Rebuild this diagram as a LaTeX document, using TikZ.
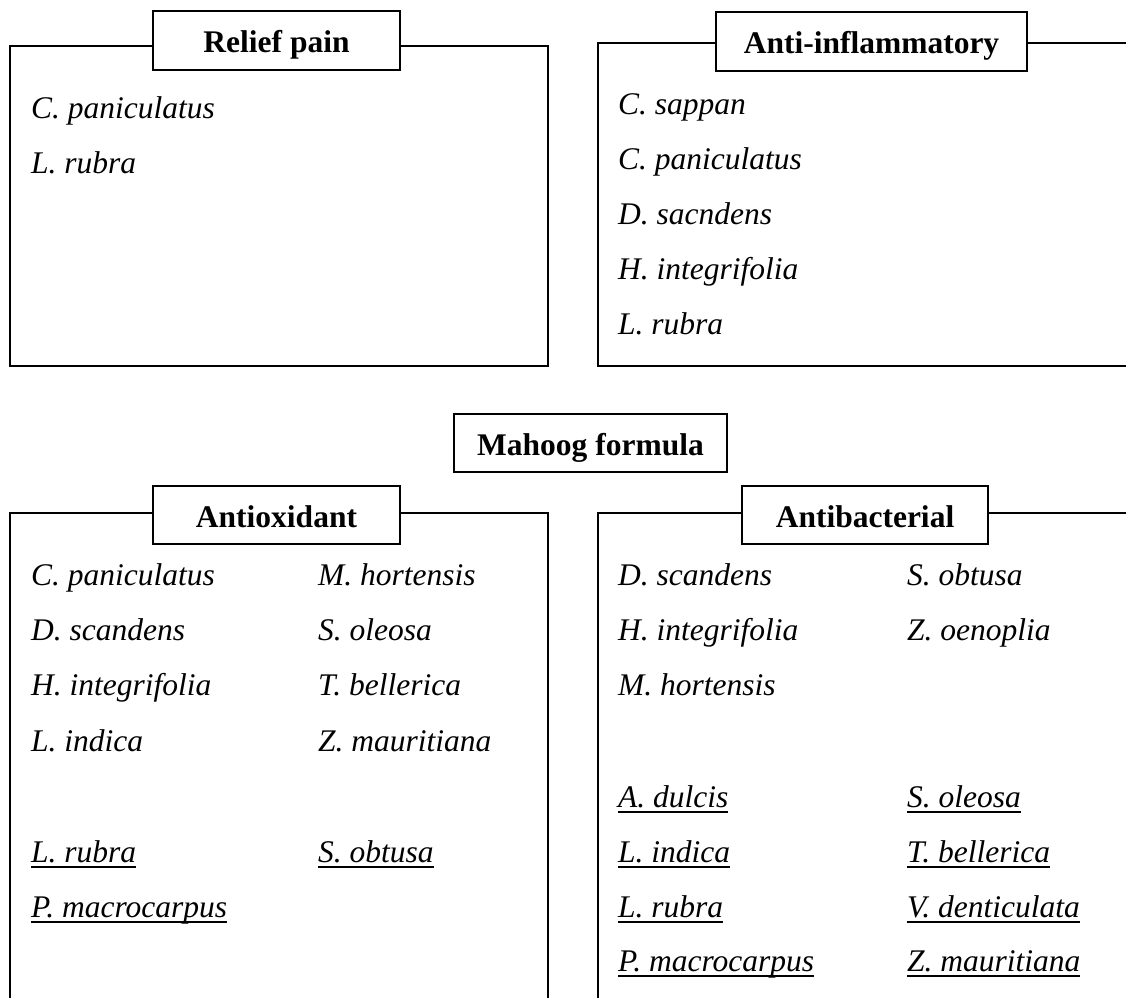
\documentclass[tikz,border=0pt]{standalone}
\usepackage{fontspec}
\setmainfont{Liberation Serif}
\newcommand\myul[1]{\setbox0\hbox{#1}\rlap{\rule[-5.5pt]{\wd0}{1.8pt}}\box0}
\begin{document}
\begin{tikzpicture}[x=1pt,y=-1pt,
  frame/.style={line width=1.4pt},
  title/.style={draw, line width=2pt, fill=white, inner sep=0pt,
    font=\fontsize{31.5}{36}\selectfont\bfseries, text height=26pt, text depth=2pt, anchor=center},
  item/.style={anchor=base west, inner sep=0pt, font=\fontsize{31.5}{36}\selectfont\itshape}]
\useasboundingbox (0,0) rectangle (1126,997);
% frames
\draw[frame] (10,46) rectangle (548,366);
\draw[frame] (1128,43) -- (598,43) -- (598,366) -- (1128,366);
\draw[frame] (10,999) -- (10,513) -- (548,513) -- (548,999);
\draw[frame] (598,999) -- (598,513) -- (1128,513);
% titles
\node[title, minimum width=247pt, minimum height=59pt] (trelief) at (276.5,40.5) {Relief pain};
\node[title, minimum width=311pt, minimum height=59pt] (tanti) at (871.5,41.5) {Anti-inflammatory};
\node[title, minimum width=273pt, minimum height=58pt] (tmahoog) at (590.5,443) {Mahoog formula};
\node[title, minimum width=247pt, minimum height=58pt] (toxi) at (276.5,515) {Antioxidant};
\node[title, minimum width=246pt, minimum height=58pt] (tbac) at (865,515) {Antibacterial};
% Relief pain
\node[item] (r1) at (31,118) {C. paniculatus};
\node[item] (r2) at (31,173) {L. rubra};
% Anti-inflammatory
\node[item] (a1) at (618,114) {C. sappan};
\node[item] (a2) at (618,169) {C. paniculatus};
\node[item] (a3) at (618,224) {D. sacndens};
\node[item] (a4) at (618,279) {H. integrifolia};
\node[item] (a5) at (618,334) {L. rubra};
% Antioxidant
\node[item] (o1) at (31,585) {C. paniculatus};
\node[item] (o2) at (31,640) {D. scandens};
\node[item] (o3) at (31,695) {H. integrifolia};
\node[item] (o4) at (31,751) {L. indica};
\node[item] (o5) at (31,862) {\myul{L. rubra}};
\node[item] (o6) at (31,917) {\myul{P. macrocarpus}};
\node[item] (o7) at (318,585) {M. hortensis};
\node[item] (o8) at (318,640) {S. oleosa};
\node[item] (o9) at (318,695) {T. bellerica};
\node[item] (o10) at (318,751) {Z. mauritiana};
\node[item] (o11) at (318,862) {\myul{S. obtusa}};
% Antibacterial
\node[item] (b1) at (618,585) {D. scandens};
\node[item] (b2) at (618,640) {H. integrifolia};
\node[item] (b3) at (618,695) {M. hortensis};
\node[item] (b4) at (618,807) {\myul{A. dulcis}};
\node[item] (b5) at (618,862) {\myul{L. indica}};
\node[item] (b6) at (618,917) {\myul{L. rubra}};
\node[item] (b7) at (618,971) {\myul{P. macrocarpus}};
\node[item] (b8) at (907,585) {S. obtusa};
\node[item] (b9) at (907,640) {Z. oenoplia};
\node[item] (b10) at (907,807) {\myul{S. oleosa}};
\node[item] (b11) at (907,862) {\myul{T. bellerica}};
\node[item] (b12) at (907,917) {\myul{V. denticulata}};
\node[item] (b13) at (907,971) {\myul{Z. mauritiana}};
\end{tikzpicture}
\end{document}
